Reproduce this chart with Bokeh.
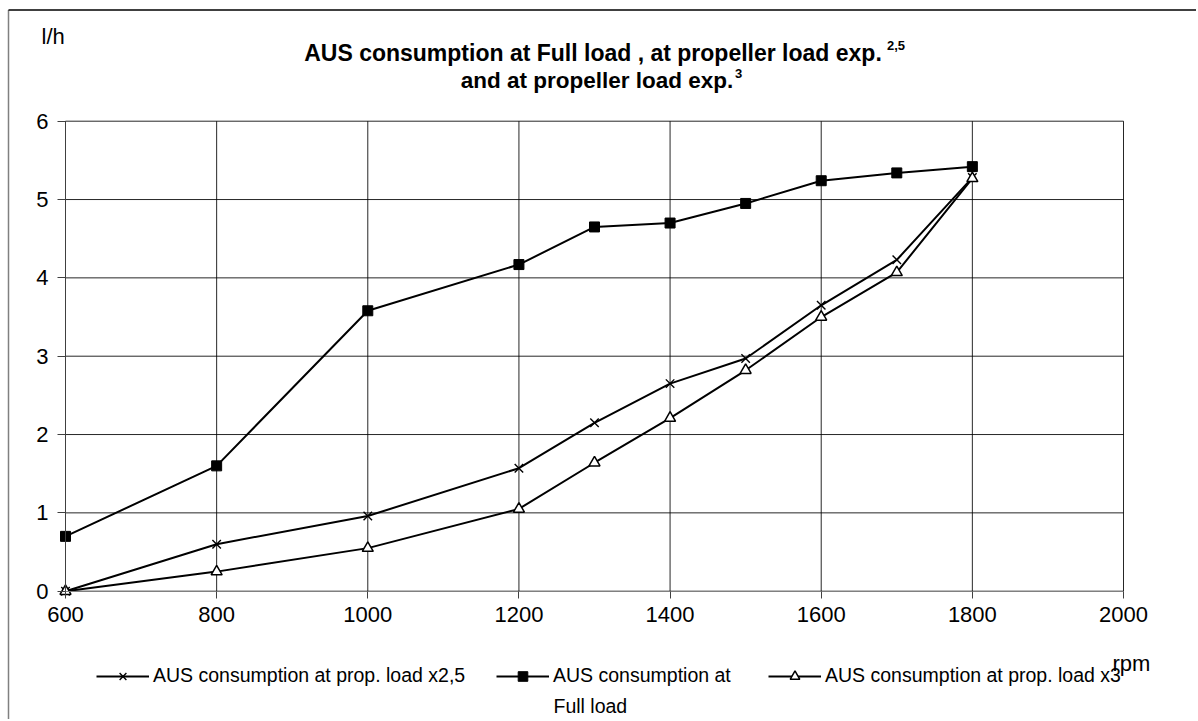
from bokeh.plotting import figure
from bokeh.models import Range1d, FixedTicker, Legend, LegendItem, Label, Arrow
from bokeh.embed import file_html
from bokeh.resources import INLINE

# ---------------- data ----------------
rpm = [600, 800, 1000, 1200, 1300, 1400, 1500, 1600, 1700, 1800]
prop_x25 = [0.0, 0.60, 0.96, 1.57, 2.15, 2.65, 2.97, 3.65, 4.23, 5.28]
full_load = [0.70, 1.60, 3.58, 4.17, 4.65, 4.70, 4.95, 5.24, 5.34, 5.42]
prop_x3 = [0.0, 0.25, 0.55, 1.05, 1.64, 2.21, 2.82, 3.50, 4.07, 5.27]

x_ticks = [600, 800, 1000, 1200, 1400, 1600, 1800, 2000]
y_ticks = [0, 1, 2, 3, 4, 5, 6]

label_x25 = "AUS consumption at prop. load x2,5"
label_full_1 = "AUS consumption at"
label_full_2 = "Full load"
label_x3 = "AUS consumption at prop. load x3"
title_1 = "AUS consumption at Full load , at propeller load exp."
title_1_sup = "2,5"
title_2 = "and at propeller load exp."
title_2_sup = "3"
y_unit = "l/h"
x_unit = "rpm"

FONT = "Liberation Sans"

# ---------------- layout (page px) ----------------
W, H = 1196, 719
PL, PR, PT, PB = 65.0, 1123.0, 120.7, 590.7   # plot-area edges in page px
X0, X1, Y0, Y1 = 600, 2000, 0, 6


def dx(px):
    return X0 + (px - PL) * (X1 - X0) / (PR - PL)


def dy(py):
    return Y0 + (PB - py) * (Y1 - Y0) / (PB - PT)


p = figure(width=W, height=H, output_backend="svg", toolbar_location=None,
           x_range=Range1d(dx(0), dx(W)), y_range=Range1d(dy(H), dy(0)),
           min_border=0, min_border_left=0, min_border_right=0,
           min_border_top=0, min_border_bottom=0)
p.title.visible = False
p.title.text = ""
p.background_fill_color = "white"
p.border_fill_color = "white"
p.outline_line_color = None
p.grid.visible = False

# axes drawn at the plot-area edges
p.xaxis.fixed_location = Y0
p.yaxis.fixed_location = X0
p.xaxis.bounds = (X0, X1)
p.yaxis.bounds = (Y0, Y1)
p.xaxis.ticker = FixedTicker(ticks=x_ticks)
p.yaxis.ticker = FixedTicker(ticks=y_ticks)
for ax in (p.xaxis, p.yaxis):
    ax.axis_line_width = 1
    ax.major_tick_line_color = "#404040"
    ax.minor_tick_line_color = None
    ax.major_tick_in = 0
    ax.major_label_text_font = FONT
    ax.major_label_text_font_size = "22px"
    ax.major_label_text_color = "black"
p.xaxis.axis_line_color = "#808080"
p.yaxis.axis_line_color = "#404040"
p.xaxis.major_tick_out = 7
p.xaxis.major_label_standoff = 9
p.yaxis.major_tick_out = 8
p.yaxis.major_label_standoff = 9

# grid lines built from the tick lists
p.segment(x0=x_ticks, y0=[Y0] * len(x_ticks), x1=x_ticks, y1=[Y1] * len(x_ticks),
          line_color="black", line_alpha=0.85, line_width=1)
p.segment(x0=[X0] * len(y_ticks), y0=y_ticks, x1=[X1] * len(y_ticks), y1=y_ticks,
          line_color="black", line_alpha=0.85, line_width=1)

# series
l_full = p.line(rpm, full_load, line_color="black", line_width=2)
m_full = p.scatter(rpm, full_load, marker="square", size=10,
                   fill_color="black", line_color="black")
l_x25 = p.line(rpm, prop_x25, line_color="black", line_width=2)
m_x25 = p.scatter(rpm, prop_x25, marker="x", size=12,
                  line_color="black", line_width=1.4)
l_x3 = p.line(rpm, prop_x3, line_color="black", line_width=2)
m_x3 = p.scatter(rpm, prop_x3, marker="triangle", size=11,
                 fill_color="white", line_color="black", line_width=1.5)

# legends: three one-item legends in a row
LEG_H = 24
LEG_TOP = 663.5


def make_legend(label, rends, page_x):
    return Legend(items=[LegendItem(label=label, renderers=rends)],
                  location=(page_x, H - (LEG_TOP + LEG_H)),
                  orientation="horizontal",
                  padding=0, margin=0, spacing=0,
                  border_line_alpha=0, background_fill_alpha=0,
                  glyph_width=53, glyph_height=LEG_H, label_height=LEG_H,
                  label_standoff=4, label_text_font=FONT,
                  label_text_font_size="19.5px", label_text_color="black")


p.add_layout(make_legend(label_x25, [l_x25, m_x25], 96))
p.add_layout(make_legend(label_full_1, [l_full, m_full], 496))
p.add_layout(make_legend(label_x3, [l_x3, m_x3], 768))

p.add_layout(Label(x=dx(553), y=dy(705), text=label_full_2, text_font=FONT,
                   text_font_size="19.5px", text_color="black",
                   text_baseline="alphabetic", text_align="left"))

# titles
p.add_layout(Label(x=dx(592.5), y=dy(52), text=title_1, text_font=FONT,
                   text_font_size="23px", text_font_style="bold",
                   text_color="black", text_align="center",
                   text_baseline="alphabetic"))
p.add_layout(Label(x=dx(886.5), y=dy(45), text=title_1_sup, text_font=FONT,
                   text_font_size="13px", text_font_style="bold",
                   text_color="black", text_align="left",
                   text_baseline="alphabetic"))
p.add_layout(Label(x=dx(596.5), y=dy(79.5), text=title_2, text_font=FONT,
                   text_font_size="22.5px", text_font_style="bold",
                   text_color="black", text_align="center",
                   text_baseline="alphabetic"))
p.add_layout(Label(x=dx(734.5), y=dy(72.5), text=title_2_sup, text_font=FONT,
                   text_font_size="13px", text_font_style="bold",
                   text_color="black", text_align="left",
                   text_baseline="alphabetic"))

# unit labels
p.add_layout(Label(x=dx(41), y=dy(36), text=y_unit, text_font=FONT,
                   text_font_size="22px", text_color="black",
                   text_align="left", text_baseline="alphabetic"))
p.add_layout(Label(x=dx(1112), y=dy(663), text=x_unit, text_font=FONT,
                   text_font_size="22px", text_color="black",
                   text_align="left", text_baseline="alphabetic"))

# outer chart-area border (left and top edges)
p.add_layout(Arrow(end=None, x_start=dx(8), y_start=dy(9.5), x_end=dx(8),
                   y_end=dy(H + 20), line_color="#808080", line_width=1.5))
p.add_layout(Arrow(end=None, x_start=dx(8), y_start=dy(9.5), x_end=dx(W + 20),
                   y_end=dy(9.5), line_color="black", line_width=1.5))

open("out.html", "w").write(file_html(p, INLINE))
